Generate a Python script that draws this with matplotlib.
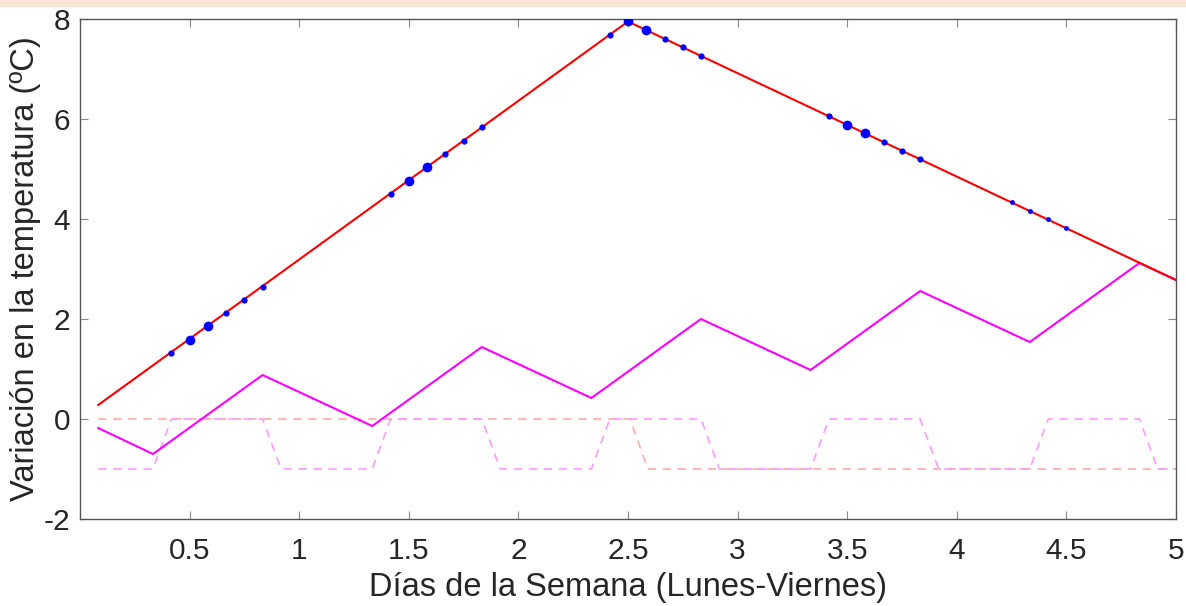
import matplotlib
matplotlib.use("Agg")
import matplotlib.pyplot as plt
from matplotlib.patches import Rectangle

# ---- data ----
red_t = [0.083, 2.5, 5.0]
red_y = [0.28, 7.95, 2.78]

mag_t = [0.083, 0.333, 0.833, 1.333, 1.833, 2.333, 2.833, 3.333, 3.833, 4.333, 4.833, 5.0]
mag_y = [-0.18, -0.70, 0.88, -0.14, 1.44, 0.42, 2.00, 0.98, 2.56, 1.54, 3.12, 2.78]

salmon_t = [0.083, 2.51, 2.59, 5.0]
salmon_y = [0, 0, -1, -1]

pinkd_t = [0.083, 0.333, 0.417, 0.833, 0.917, 1.333, 1.417, 1.833, 1.917, 2.333, 2.417,
           2.833, 2.917, 3.333, 3.417, 3.833, 3.917, 4.333, 4.417, 4.833, 4.917, 5.0]
pinkd_y = [-1, -1, 0, 0, -1, -1, 0, 0, -1, -1, 0,
           0, -1, -1, 0, 0, -1, -1, 0, 0, -1, -1]

dots_small_t = [0.417, 0.667, 0.75, 0.833, 1.417, 1.667, 1.75, 1.833,
                2.417, 2.667, 2.75, 2.833, 3.417, 3.667, 3.75, 3.833]
dots_small_y = [1.32, 2.12, 2.38, 2.64, 4.50, 5.30, 5.56, 5.84,
                7.68, 7.60, 7.44, 7.26, 6.06, 5.54, 5.36, 5.20]
dots_large_t = [0.5, 0.583, 1.5, 1.583, 2.5, 2.583, 3.5, 3.583]
dots_large_y = [1.58, 1.86, 4.76, 5.04, 7.96, 7.78, 5.88, 5.72]
dots_tiny_t = [4.25, 4.333, 4.417, 4.5]
dots_tiny_y = [4.34, 4.16, 4.00, 3.82]

xticks = [0.5, 1, 1.5, 2, 2.5, 3, 3.5, 4, 4.5, 5]
xticklabels = ["0.5", "1", "1.5", "2", "2.5", "3", "3.5", "4", "4.5", "5"]
yticks = [-2, 0, 2, 4, 6, 8]
yticklabels = ["-2", "0", "2", "4", "6", "8"]

plt.rcParams['font.family'] = ['Liberation Sans', 'DejaVu Sans']

fig = plt.figure(figsize=(11.86, 6.06), dpi=100)
fig.patches.append(Rectangle((0, 1 - 7 / 606), 1, 7 / 606, transform=fig.transFigure,
                             facecolor='#FBE5D6', edgecolor='none', zorder=0))
ax = fig.add_axes([80 / 1186, 87 / 606, 1096 / 1186, 500 / 606])

ax.plot(salmon_t, salmon_y, color='#FFAAAA', lw=1.2, ls=(0, (5, 4)), zorder=2)
ax.plot(pinkd_t, pinkd_y, color='#FF99FF', lw=1.2, ls=(0, (5, 4)), zorder=2)
ax.plot(mag_t, mag_y, color='#FF00FF', lw=1.5, zorder=3)
ax.plot(red_t, red_y, color='#FF0000', lw=1.5, zorder=4)
ax.plot(dots_small_t, dots_small_y, 'o', color='#0000FF', ms=4.5, mec='none', zorder=5)
ax.plot(dots_large_t, dots_large_y, 'o', color='#0000FF', ms=7, mec='none', zorder=5)
ax.plot(dots_tiny_t, dots_tiny_y, 'o', color='#0000FF', ms=3.5, mec='none', zorder=5)

ax.set_xlim(0, 5)
ax.set_ylim(-2, 8)
ax.set_xticks(xticks)
ax.set_xticklabels(xticklabels)
ax.set_yticks(yticks)
ax.set_yticklabels(yticklabels)
ax.tick_params(direction='in', length=6, width=0.8, color='#888888', labelsize=21.5,
               labelcolor='#262626', top=True, right=True)
ax.tick_params(axis='x', pad=13)
ax.tick_params(axis='y', pad=7)
for s in ax.spines.values():
    s.set_color('#555555')
    s.set_linewidth(1.0)

ax.set_xlabel('Días de la Semana (Lunes-Viernes)', fontsize=23.5, color='#262626', labelpad=5)
ax.set_ylabel('Variación en la temperatura (ºC)', fontsize=23.5, color='#262626', labelpad=2)

fig.savefig('out.png', dpi=100)
